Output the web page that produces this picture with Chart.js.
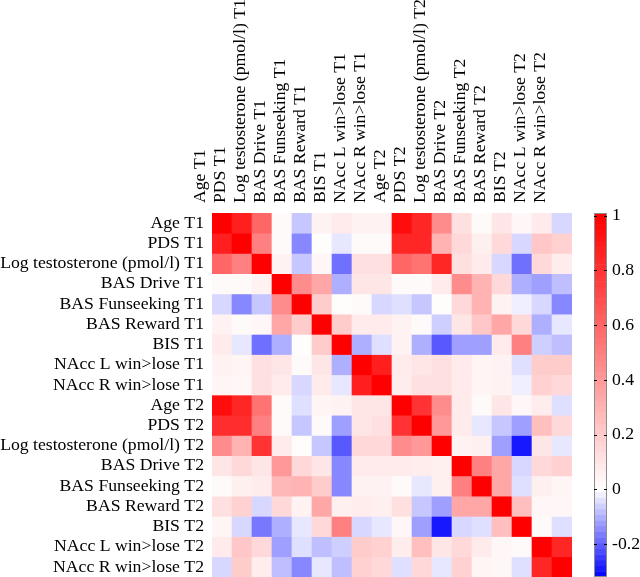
<!DOCTYPE html>
<html>
<head>
<meta charset="utf-8">
<script src="https://cdn.jsdelivr.net/npm/chart.js@4/dist/chart.umd.min.js"></script>
<style>
  body { margin: 0; background: #fff; }
  canvas { display: block; }
</style>
</head>
<body>
<canvas id="chart1" width="640" height="577"></canvas>
<script>
// variable names (rows top->bottom, columns left->right)
const labels = [
  "Age T1", "PDS T1", "Log testosterone (pmol/l) T1", "BAS Drive T1",
  "BAS Funseeking T1", "BAS Reward T1", "BIS T1", "NAcc L win>lose T1",
  "NAcc R win>lose T1", "Age T2", "PDS T2", "Log testosterone (pmol/l) T2",
  "BAS Drive T2", "BAS Funseeking T2", "BAS Reward T2", "BIS T2",
  "NAcc L win>lose T2", "NAcc R win>lose T2"
];

// correlation values, one row per variable
const corr = [
  [1, .88, .6, .02, -.07, .05, .08, .05, .05, .95, .85, .45, .12, .02, .1, .03, .08, -.05],
  [.88, 1, .5, .02, -.15, .01, -.03, .02, .02, .85, .85, .3, .15, .06, .15, -.05, .22, .18],
  [.6, .5, 1, .05, -.07, .03, -.18, .12, .12, .6, .55, .85, .12, .08, -.05, -.18, .15, .07],
  [.02, .02, .05, 1, .45, .35, -.1, .1, .1, .02, .02, .08, .45, .3, .15, -.1, -.12, -.08],
  [-.05, -.15, -.07, .45, 1, .2, .01, .02, -.05, -.04, -.07, .01, .15, .3, .05, -.02, -.05, -.15],
  [.05, .02, .03, .35, .2, 1, .2, .08, .08, .05, .02, -.06, .1, .22, .35, .15, -.1, -.03],
  [.08, -.03, -.18, -.1, .01, .2, 1, -.1, -.04, .05, -.1, -.21, -.12, -.12, .08, .5, -.06, -.08],
  [.05, .04, .12, .1, .02, .1, -.1, 1, .88, .08, .1, .12, .08, .04, .05, -.04, .2, .2],
  [.04, .03, .12, .08, -.05, .08, -.03, .88, 1, .07, .12, .12, .08, .04, .05, -.02, .18, .15],
  [.95, .85, .55, .02, -.04, .04, .05, .1, .1, 1, .8, .45, .08, .02, .1, .03, .07, -.04],
  [.82, .82, .5, .02, -.07, .02, -.12, .1, .12, .8, 1, .4, .08, -.03, -.07, -.12, .25, .15],
  [.45, .3, .8, .08, .01, -.07, -.21, .15, .15, .45, .4, 1, .05, .06, -.12, -.29, .1, -.03],
  [.1, .15, .1, .4, .15, .1, -.15, .08, .08, .08, .07, .06, 1, .5, .35, -.05, .15, .18],
  [.02, .06, .08, .28, .3, .2, -.15, .05, .05, .02, -.03, .06, .5, 1, .35, -.04, .06, .04],
  [.12, .18, -.05, .15, .05, .35, .06, .07, .06, .12, -.07, -.12, .35, .35, 1, .25, .03, .03],
  [.04, -.05, -.17, -.1, -.03, .15, .5, -.05, -.03, .03, -.12, -.29, -.05, -.04, .25, 1, .02, -.04],
  [.08, .22, .15, -.12, -.04, -.08, -.06, .2, .18, .07, .25, .1, .15, .08, .03, .02, 1, .85],
  [-.05, .2, .07, -.08, -.15, -.03, -.08, .18, .15, -.04, .15, -.03, .18, .04, .03, -.04, .85, 1]
];

// colour bar
const cbarTicks = [-0.2, 0, 0.2, 0.4, 0.6, 0.8, 1];
const cmin = -0.32;
const cmax = 1.0;
const cbarTop = 1.01;

const font = { family: "'Liberation Serif', 'Times New Roman', serif", size: 17.7 };

function toColor(v) {
  let t;
  if (v >= 0) {
    t = Math.min(v / cmax, 1);
    let c = Math.round(255 * (1 - t));
    return "rgb(255," + c + "," + c + ")";
  }
  t = Math.min(v / cmin, 1);
  let c = Math.round(255 * (1 - t));
  return "rgb(" + c + "," + c + ",255)";
}

// no extra room for half-labels at the ends of the axes
function noPad(scale) {
  scale.paddingTop = 0;
  scale.paddingBottom = 0;
  scale.paddingLeft = 0;
  scale.paddingRight = 0;
}

let datasets = [];
labels.forEach(function(rowLabel, r) {
  datasets.push({
    label: rowLabel,
    data: labels.map(function() { return 1; }),
    backgroundColor: corr[r].map(toColor),
    borderWidth: 0,
    barPercentage: 1,
    categoryPercentage: 1,
    stack: "m"
  });
});

// draws the colour bar beside the matrix using the "cb" scale
const colorbarPlugin = {
  id: "colorbar",
  afterDraw: function(chart) {
    const s = chart.scales.cb;
    const ctx = chart.ctx;
    const x0 = s.left + 22;
    const w = 13;
    const steps = 64;
    ctx.save();
    for (let k = 0; k < steps; k++) {
      let v0 = cmin + (cbarTop - cmin) * k / steps;
      let v1 = cmin + (cbarTop - cmin) * (k + 1) / steps;
      let y0 = s.getPixelForValue(v0);
      let y1 = s.getPixelForValue(v1);
      ctx.fillStyle = toColor((v0 + v1) / 2);
      ctx.fillRect(x0, y1, w, y0 - y1 + 0.5);
    }
    ctx.strokeStyle = "#8c8c8c";
    ctx.lineWidth = 1;
    ctx.strokeRect(x0 + 0.5, s.top + 0.5, w - 1, s.bottom - s.top - 1);
    ctx.strokeStyle = "#000";
    cbarTicks.forEach(function(v) {
      let y = Math.round(s.getPixelForValue(v)) + 0.5;
      ctx.beginPath();
      ctx.moveTo(x0, y); ctx.lineTo(x0 + 3, y);
      ctx.moveTo(x0 + w - 3, y); ctx.lineTo(x0 + w, y);
      ctx.stroke();
    });
    ctx.restore();
  }
};

new Chart(document.getElementById("chart1"), {
  type: "bar",
  data: { labels: labels, datasets: datasets },
  options: {
    responsive: false,
    animation: false,
    layout: { padding: 0 },
    plugins: { legend: { display: false }, tooltip: { enabled: false } },
    scales: {
      x: {
        type: "category",
        position: "top",
        stacked: true,
        grid: { display: false, drawTicks: false },
        border: { display: false },
        ticks: { color: "#000", font: font, maxRotation: 90, minRotation: 90, autoSkip: false, padding: 10 },
        afterFit: function(scale) { scale.height = 213; noPad(scale); }
      },
      y: {
        type: "linear",
        position: "left",
        stacked: true,
        reverse: true,
        min: 0,
        max: labels.length,
        grid: { display: false, drawTicks: false },
        border: { display: false },
        afterBuildTicks: function(axis) {
          axis.ticks = labels.map(function(l, i) { return { value: i + 0.5 }; });
        },
        ticks: {
          color: "#000", font: font, autoSkip: false, padding: 8,
          callback: function(v, i) { return labels[i]; }
        },
        afterFit: function(scale) { scale.width = 212; noPad(scale); }
      },
      cb: {
        type: "linear",
        position: "right",
        min: cmin,
        max: cbarTop,
        grid: { display: false, drawTicks: false },
        border: { display: false },
        afterBuildTicks: function(axis) {
          axis.ticks = cbarTicks.map(function(v) { return { value: v }; });
        },
        ticks: {
          color: "#000", font: font, padding: 40, autoSkip: false,
          callback: function(v) { return String(Math.round(v * 10) / 10); }
        },
        afterFit: function(scale) { scale.width = 68; noPad(scale); }
      }
    }
  },
  plugins: [colorbarPlugin]
});
</script>
</body>
</html>
